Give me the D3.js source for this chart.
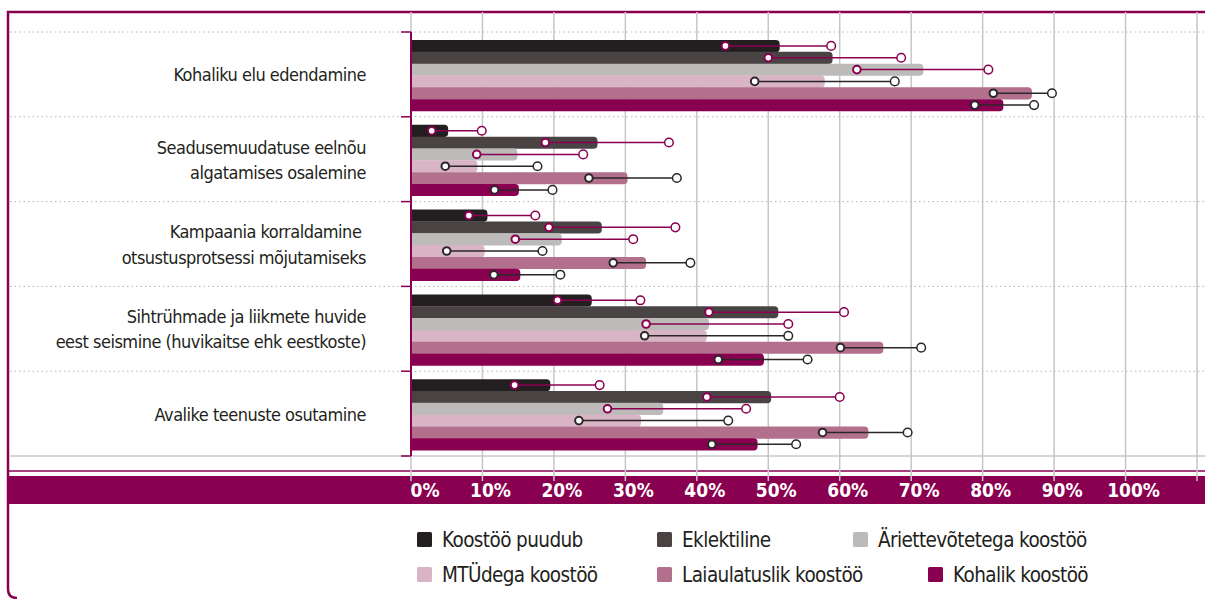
<!DOCTYPE html>
<html>
<head>
<meta charset="utf-8">
<script src="https://cdn.jsdelivr.net/npm/d3@7"></script>
<style>
  html, body { margin: 0; padding: 0; background: #fff; }
  svg { display: block; }
  .lbl { font-family: "Liberation Sans Narrow", "DejaVu Sans Condensed", "DejaVu Sans", sans-serif; font-stretch: condensed; }
</style>
</head>
<body>
<svg id="chart" width="1205" height="599"></svg>
<script>
// ---------- data ----------
const categories = [
  ["Kohaliku elu edendamine"],
  ["Seadusemuudatuse eelnõu", "algatamises osalemine"],
  ["Kampaania korraldamine ", "otsustusprotsessi mõjutamiseks"],
  ["Sihtrühmade ja liikmete huvide", "eest seismine (huvikaitse ehk eestkoste)"],
  ["Avalike teenuste osutamine"]
];
const seriesNames = ["Koostöö puudub", "Eklektiline", "Äriettevõtetega koostöö",
                     "MTÜdega koostöö", "Laiaulatuslik koostöö", "Kohalik koostöö"];
// values per category (rows) and series (columns), in %
const values = [
  [51.6, 59.0, 71.7, 57.9, 86.9, 82.9],
  [5.2, 26.1, 14.9, 9.3, 30.3, 15.1],
  [10.7, 26.7, 21.1, 10.3, 32.9, 15.3],
  [25.3, 51.4, 41.7, 41.4, 66.1, 49.4],
  [19.5, 50.4, 35.3, 32.2, 64.0, 48.5]
];
const lows = [
  [44.0, 50.0, 62.4, 48.1, 81.5, 78.9],
  [2.9, 18.8, 9.2, 4.8, 24.9, 11.7],
  [8.1, 19.3, 14.6, 5.0, 28.3, 11.6],
  [20.5, 41.7, 32.9, 32.7, 60.1, 43.0],
  [14.5, 41.4, 27.5, 23.5, 57.6, 42.1]
];
const highs = [
  [58.8, 68.6, 80.8, 67.7, 89.7, 87.2],
  [9.9, 36.1, 24.1, 17.7, 37.2, 19.8],
  [17.4, 37.0, 31.1, 18.4, 39.1, 20.9],
  [32.1, 60.6, 52.8, 52.8, 71.4, 55.5],
  [26.4, 60.0, 46.9, 44.4, 69.5, 53.9]
];
const tickValues = [0, 10, 20, 30, 40, 50, 60, 70, 80, 90, 100];
const tickLabels = ["0%", "10%", "20%", "30%", "40%", "50%", "60%", "70%", "80%", "90%", "100%"];
const gridValues = [0, 10, 20, 30, 40, 50, 60, 70, 80, 90, 100, 110];

// ---------- styles ----------
const seriesColors = ["#231f20", "#4a4344", "#bcbbb9", "#d9b4c4", "#b3708d", "#8a0050"];
const errColors = ["#8a0050", "#8a0050", "#8a0050", "#2b2627", "#2b2627", "#2b2627"];
const MAG = "#8a0050";
const TXT = "#231f20";

const svg = d3.select("#chart");
const W = 1205;

const x = d3.scaleLinear().domain([0, 110]).range([411, 1197]);
const y = d3.scaleBand().domain(d3.range(categories.length)).range([32, 456]).padding(0);
const yi = d3.scaleBand().domain(d3.range(seriesNames.length)).range([8, 79]).padding(0);

// frame
svg.append("path")
  .attr("d", `M${W},12 H8 V589 Q8,598 17,598`)
  .attr("fill", "none").attr("stroke", MAG).attr("stroke-width", 2.5);

// axis band
svg.append("rect").attr("x", 8).attr("y", 476).attr("width", W - 8).attr("height", 28).attr("fill", MAG);
// lines above band
svg.append("line").attr("x1", 9).attr("x2", W).attr("y1", 456).attr("y2", 456)
  .attr("stroke", "#c8c8c8").attr("stroke-width", 1.5);
svg.append("line").attr("x1", 9).attr("x2", W).attr("y1", 471).attr("y2", 471)
  .attr("stroke", MAG).attr("stroke-width", 1.5);

// dotted category separators
const seps = d3.range(categories.length).map(i => y(i));
svg.append("g").selectAll("line").data(seps).join("line")
  .attr("x1", 10).attr("x2", W).attr("y1", d => d).attr("y2", d => d)
  .attr("stroke", "#b5b5b5").attr("stroke-width", 1).attr("stroke-dasharray", "1.5,3");

// vertical gridlines
svg.append("g").selectAll("line").data(gridValues).join("line")
  .attr("x1", d => x(d)).attr("x2", d => x(d)).attr("y1", 12).attr("y2", 481)
  .attr("stroke", "#c6c6c6").attr("stroke-width", 1.5);

// tick labels
svg.append("g").selectAll("text").data(tickValues).join("text")
  .attr("class", "lbl")
  .attr("x", (d, i) => x(d) + (i === 0 ? 14 : 8)).attr("y", 497)
  .attr("text-anchor", "middle")
  .attr("fill", "#fff").attr("font-size", 19).attr("font-weight", "bold")
  .text((d, i) => tickLabels[i]);

// bars
function barPath(x0, x1, y0, h) {
  const r = Math.min(4, (x1 - x0) / 2);
  return `M${x0},${y0} H${x1 - r} Q${x1},${y0} ${x1},${y0 + r} V${y0 + h - r} Q${x1},${y0 + h} ${x1 - r},${y0 + h} H${x0} Z`;
}
const flat = [];
values.forEach((row, ci) => row.forEach((v, si) => flat.push({ ci, si, v, lo: lows[ci][si], hi: highs[ci][si] })));

const gBars = svg.append("g");
gBars.selectAll("path").data(flat).join("path")
  .attr("d", d => barPath(x(0), x(d.v), y(d.ci) + yi(d.si), yi.bandwidth() + 0.3))
  .attr("fill", d => seriesColors[d.si]);

// error bars
const gErr = svg.append("g");
const cy = d => y(d.ci) + yi(d.si) + yi.bandwidth() / 2;
gErr.selectAll("line").data(flat).join("line")
  .attr("x1", d => x(d.lo)).attr("x2", d => x(d.hi))
  .attr("y1", cy).attr("y2", cy)
  .attr("stroke", d => errColors[d.si]).attr("stroke-width", 1.5);
gErr.selectAll("circle.lo").data(flat).join("circle").attr("class", "lo")
  .attr("cx", d => x(d.lo)).attr("cy", cy).attr("r", 3.8)
  .attr("fill", "#fff").attr("stroke", d => errColors[d.si]).attr("stroke-width", 2);
gErr.selectAll("circle.hi").data(flat).join("circle").attr("class", "hi")
  .attr("cx", d => x(d.hi)).attr("cy", cy).attr("r", 4.3)
  .attr("fill", "#fff").attr("stroke", d => errColors[d.si]).attr("stroke-width", 1.5);

// left axis
svg.append("line").attr("x1", 411).attr("x2", 411).attr("y1", 32).attr("y2", 456)
  .attr("stroke", MAG).attr("stroke-width", 2);
svg.append("g").selectAll("line").data(d3.range(categories.length + 1)).join("line")
  .attr("x1", 401).attr("x2", 411)
  .attr("y1", i => i < categories.length ? y(i) : 456).attr("y2", i => i < categories.length ? y(i) : 456)
  .attr("stroke", MAG).attr("stroke-width", 1.5);

// category labels
const gCat = svg.append("g");
categories.forEach((lines, ci) => {
  const c = y(ci) + y.bandwidth() / 2 + 7;
  const n = lines.length;
  lines.forEach((t, li) => {
    gCat.append("text").attr("class", "lbl")
      .attr("x", 366).attr("y", c + (li - (n - 1) / 2) * 25.3)
      .attr("text-anchor", "end").attr("fill", TXT).attr("font-size", 18)
      .attr("letter-spacing", "-0.5px")
      .style("white-space", "pre")
      .text(t);
  });
});

// legend
const legendPos = [[417, 532], [657, 532], [853, 532], [417, 567], [657, 567], [928, 567]];
const gLeg = svg.append("g");
seriesNames.forEach((s, i) => {
  const [lx, ly] = legendPos[i];
  gLeg.append("rect").attr("x", lx).attr("y", ly).attr("width", 15).attr("height", 15).attr("rx", 1.5)
    .attr("fill", seriesColors[i]);
  gLeg.append("text").attr("class", "lbl").attr("x", lx + 25).attr("y", ly + 15)
    .attr("fill", TXT).attr("font-size", 20.5).attr("letter-spacing", "-0.6px").text(s);
});
</script>
</body>
</html>
